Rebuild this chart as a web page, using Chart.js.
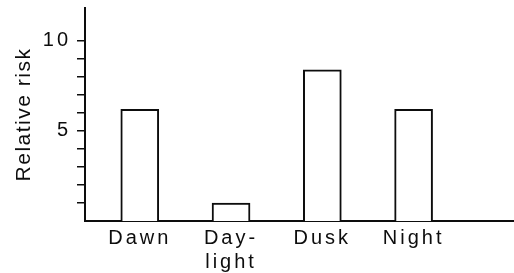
<!DOCTYPE html>
<html><head><meta charset="utf-8">
<script src="https://cdn.jsdelivr.net/npm/chart.js@4/dist/chart.umd.min.js"></script>
<style>html,body{margin:0;padding:0;background:#fff}#wrap{width:514px;height:273px}</style>
</head><body><div id="wrap"><canvas id="c" width="514" height="273"></canvas></div>
<script>
// ---- data ----
const categories = ['Dawn', ['Day-', 'light'], 'Dusk', 'Night'];
const relativeRisk = [6.2, 1.0, 8.4, 6.2];
const yTickValues = [1, 2, 3, 4, 5, 6, 7, 8, 9, 10];
const yTickLabels = { 5: '5', 10: '10' };
const yAxisTitle = 'Relative risk';

const INK = '#0d0d0d';
const FONT = "'Liberation Sans', Arial, Helvetica, sans-serif";

const spacingPlugin = {
  id: 'spacing',
  beforeUpdate(c) { c.ctx.letterSpacing = '3px'; },
  beforeLayout(c) { c.ctx.letterSpacing = '3px'; },
  beforeDraw(c) { c.ctx.letterSpacing = '3px'; }
};

function wrapTitle(s) {
  if (s._titleWrapped) return;
  const orig = s.drawTitle.bind(s);
  s.drawTitle = function () {
    const ctx = s.ctx;
    const prev = ctx.letterSpacing;
    ctx.letterSpacing = '1.5px';
    orig();
    ctx.letterSpacing = prev;
  };
  s._titleWrapped = true;
}

new Chart(document.getElementById('c'), {
  type: 'bar',
  data: {
    datasets: [{
      data: categories.map((c, i) => ({ x: i + 1, y: relativeRisk[i] })),
      backgroundColor: '#ffffff',
      borderColor: INK,
      borderWidth: 2,
      barThickness: 38
    }]
  },
  plugins: [spacingPlugin],
  options: {
    responsive: false,
    animation: false,
    layout: { padding: { top: 8, left: 0, right: 0, bottom: 0 } },
    plugins: { legend: { display: false }, tooltip: { enabled: false } },
    scales: {
      x: {
        type: 'linear',
        offset: false,
        min: 0.4,
        max: 5.1,
        grid: { display: false, drawTicks: false },
        border: { display: true, color: INK, width: 2 },
        afterBuildTicks: s => { s.ticks = categories.map((c, i) => ({ value: i + 1 })); },
        afterFit: s => { s.height = 52; s.paddingLeft = 0; s.paddingRight = 0; },
        ticks: {
          autoSkip: false,
          maxRotation: 0,
          padding: 5,
          color: INK,
          font: { family: FONT, size: 20 },
          callback: v => categories[v - 1]
        }
      },
      y: {
        min: 0,
        max: 11.83,
        afterBuildTicks: s => { s.ticks = yTickValues.map(v => ({ value: v })); },
        afterFit: s => { s.width = 85; s.paddingTop = 0; s.paddingBottom = 0; wrapTitle(s); },
        grid: { drawOnChartArea: false, drawTicks: true, tickLength: 8, color: INK, lineWidth: 1.5 },
        border: { display: true, color: INK, width: 2 },
        ticks: {
          autoSkip: false,
          padding: 6,
          color: INK,
          font: { family: FONT, size: 20 },
          callback: v => yTickLabels[v] || ''
        },
        title: {
          display: true,
          text: yAxisTitle,
          color: INK,
          font: { family: FONT, size: 21 },
          padding: { top: 12, bottom: 0 }
        }
      }
    }
  }
});
</script>
</body></html>
